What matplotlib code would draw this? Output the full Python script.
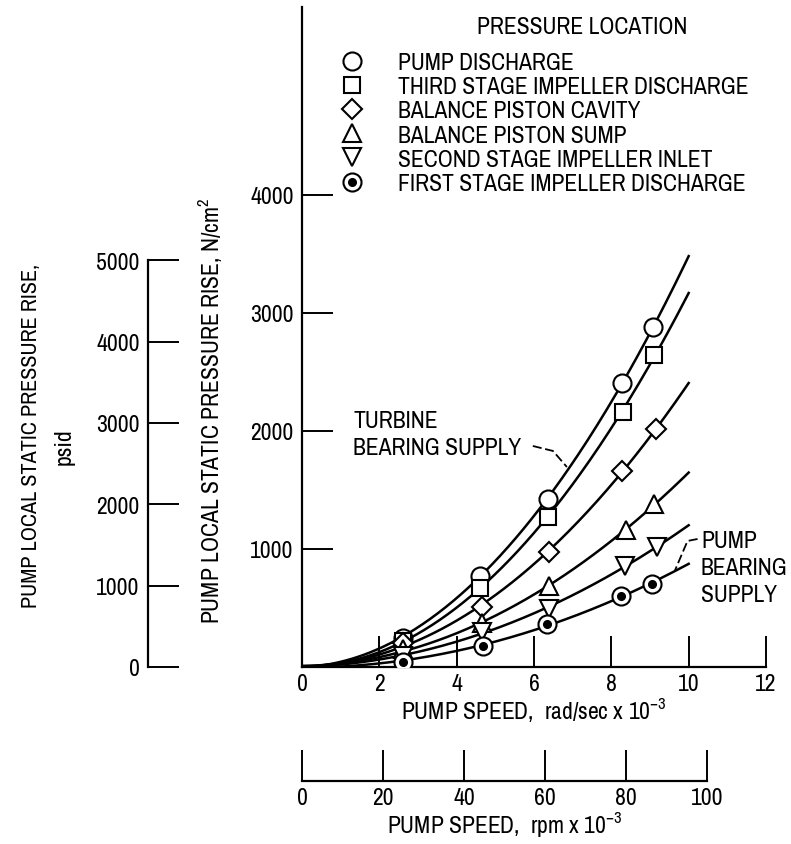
import numpy as np
import matplotlib
matplotlib.use("Agg")
import matplotlib.pyplot as plt
from matplotlib.lines import Line2D

FONT = 'Archivo Narrow'
plt.rcParams['font.family'] = [FONT, 'Barlow Semi Condensed', 'DejaVu Sans']
plt.rcParams['mathtext.fontset'] = 'custom'
plt.rcParams['mathtext.rm'] = FONT
plt.rcParams['mathtext.it'] = FONT
plt.rcParams['mathtext.bf'] = FONT

# pump speed, rad/sec x 10^-3 ; local static pressure rise, N/cm^2
labels = [
    "PUMP DISCHARGE",
    "THIRD STAGE IMPELLER DISCHARGE",
    "BALANCE PISTON CAVITY",
    "BALANCE PISTON SUMP",
    "SECOND STAGE IMPELLER INLET",
    "FIRST STAGE IMPELLER DISCHARGE",
]
markers = ['o', 's', 'D', '^', 'v', 'o']
msizes = [13, 12, 10, 13, 13, 13]

speed_pd = [2.6, 4.6, 6.35, 8.28, 9.08]
press_pd = [250, 775, 1425, 2405, 2880]
speed_tsd = [2.6, 4.6, 6.35, 8.3, 9.1]
press_tsd = [220, 670, 1270, 2160, 2640]
speed_bpc = [2.6, 4.65, 6.38, 8.27, 9.15]
press_bpc = [200, 510, 975, 1660, 2015]
speed_bps = [2.6, 4.65, 6.4, 8.37, 9.1]
press_bps = [150, 370, 690, 1160, 1380]
speed_ssi = [2.6, 4.65, 6.4, 8.35, 9.17]
press_ssi = [95, 300, 495, 860, 1015]
speed_fsd = [2.6, 4.68, 6.33, 8.25, 9.05]
press_fsd = [45, 180, 365, 600, 705]

speeds = [speed_pd, speed_tsd, speed_bpc, speed_bps, speed_ssi, speed_fsd]
pressures = [press_pd, press_tsd, press_bpc, press_bps, press_ssi, press_fsd]
curve_end = 10.0

# leader lines for the callouts (data coords)
turbine_leader_x = [5.97, 6.49, 6.85]
turbine_leader_y = [1873, 1831, 1695]
pump_leader_x = [10.23, 9.97, 9.64]
pump_leader_y = [1085, 1068, 814]

W, H = 791, 845
FS = 17
fig = plt.figure(figsize=(W / 100, H / 100), dpi=100)

x0, x12 = 302, 766
y0, ytop = 668, 8
ymax = (y0 - ytop) / 0.118
ax = fig.add_axes([x0 / W, 1 - y0 / H, (x12 - x0) / W, (y0 - ytop) / H])
ax.set_xlim(0, 12)
ax.set_ylim(0, ymax)
for s in ['top', 'right']:
    ax.spines[s].set_visible(False)
for s in ['left', 'bottom']:
    ax.spines[s].set_linewidth(1.6)
ax.set_xticks(range(0, 13, 2))
ax.set_yticks([1000, 2000, 3000, 4000])
ax.tick_params(direction='in', length=22, width=1.4, labelsize=FS)
ax.tick_params(axis='x', pad=4)
ax.tick_params(axis='y', pad=6)
ax.set_xlabel(r'PUMP SPEED,  rad/sec x 10$^{-3}$', fontsize=FS, labelpad=1)

for xs_, ys_, m, ms in zip(speeds, pressures, markers, msizes):
    xd = np.r_[0.0, xs_]
    yd = np.r_[0.0, ys_]
    coef = np.polyfit(xd, yd, 2)
    xc = np.linspace(0, curve_end, 200)
    yc = np.clip(np.polyval(coef, xc), 0, None)
    ax.plot(xc, yc, color='black', lw=1.8, zorder=2)
    ax.plot(xs_, ys_, ls='none', marker=m, ms=ms, mfc='white', mec='black',
            mew=1.5, zorder=3)
ax.plot(speed_fsd, press_fsd, ls='none', marker='o', ms=5.5, color='black', zorder=4)

ax.plot(turbine_leader_x, turbine_leader_y, color='black', lw=1.3,
        ls=(0, (5, 2)))
ax.plot(pump_leader_x, pump_leader_y, color='black', lw=1.3, ls=(0, (5, 2)))
fig.text(353 / W, 1 - 411 / H, "TURBINE\nBEARING SUPPLY", fontsize=FS,
         va='top', ha='left', linespacing=1.35)
fig.text(701 / W, 1 - 531 / H, "PUMP\nBEARING\nSUPPLY", fontsize=FS,
         va='top', ha='left', linespacing=1.35)

# legend
handles = []
for i, (m, ms) in enumerate(zip(markers, msizes)):
    h = Line2D([], [], ls='none', marker=m, ms=ms, mfc='white', mec='black', mew=1.5)
    if i == 5:
        h = (h, Line2D([], [], ls='none', marker='o', ms=5.5, color='black'))
    handles.append(h)
leg = ax.legend(handles, labels, loc='upper left', frameon=False,
                bbox_to_anchor=(334 / W, 1 - 53 / H), bbox_transform=fig.transFigure,
                borderaxespad=0, borderpad=0, fontsize=FS, handlelength=1.5,
                handletextpad=1.2, labelspacing=0.135)
fig.text(582 / W, 1 - 28 / H, "PRESSURE LOCATION", fontsize=FS, ha='center', va='center')

fig.text(210 / W, 1 - 411 / H, r'PUMP LOCAL STATIC PRESSURE RISE, N/cm$^2$',
         fontsize=FS, rotation=90, ha='center', va='center')

# psi scale
psi_per = 0.68948
ax_psi = fig.add_axes([148 / W, 1 - y0 / H, 0.001, (y0 - ytop) / H])
ax_psi.set_ylim(0, ymax / psi_per)
for s in ['top', 'right', 'bottom']:
    ax_psi.spines[s].set_visible(False)
ax_psi.spines['left'].set_bounds(0, 5000)
ax_psi.spines['left'].set_linewidth(1.6)
ax_psi.set_xticks([])
ax_psi.set_yticks(range(0, 5001, 1000))
ax_psi.tick_params(direction='in', length=22, width=1.4, labelsize=FS, pad=6)
ax_psi.patch.set_visible(False)
fig.text(31 / W, 1 - 436 / H, "PUMP LOCAL STATIC PRESSURE RISE,", fontsize=16,
         rotation=90, ha='center', va='center')
fig.text(64 / W, 1 - 447 / H, "psid", fontsize=FS, rotation=90,
         ha='center', va='center')

# rpm scale
rpm_per = 60 / (2 * np.pi)
ax_rpm = fig.add_axes([x0 / W, 1 - 782 / H, (x12 - x0) / W, 0.04])
ax_rpm.set_xlim(0, 12 * rpm_per)
for s in ['top', 'right', 'left']:
    ax_rpm.spines[s].set_visible(False)
ax_rpm.spines['bottom'].set_bounds(0, 100)
ax_rpm.spines['bottom'].set_linewidth(1.6)
ax_rpm.set_yticks([])
ax_rpm.set_xticks(range(0, 101, 20))
ax_rpm.tick_params(direction='in', length=22, width=1.4, labelsize=FS, pad=4)
ax_rpm.patch.set_visible(False)
ax_rpm.set_xlabel(r'PUMP SPEED,  rpm x 10$^{-3}$', fontsize=FS, labelpad=0)
ax_rpm.xaxis.set_label_coords(50 / (12 * rpm_per), -0.82)

fig.savefig("out.png", dpi=100)
